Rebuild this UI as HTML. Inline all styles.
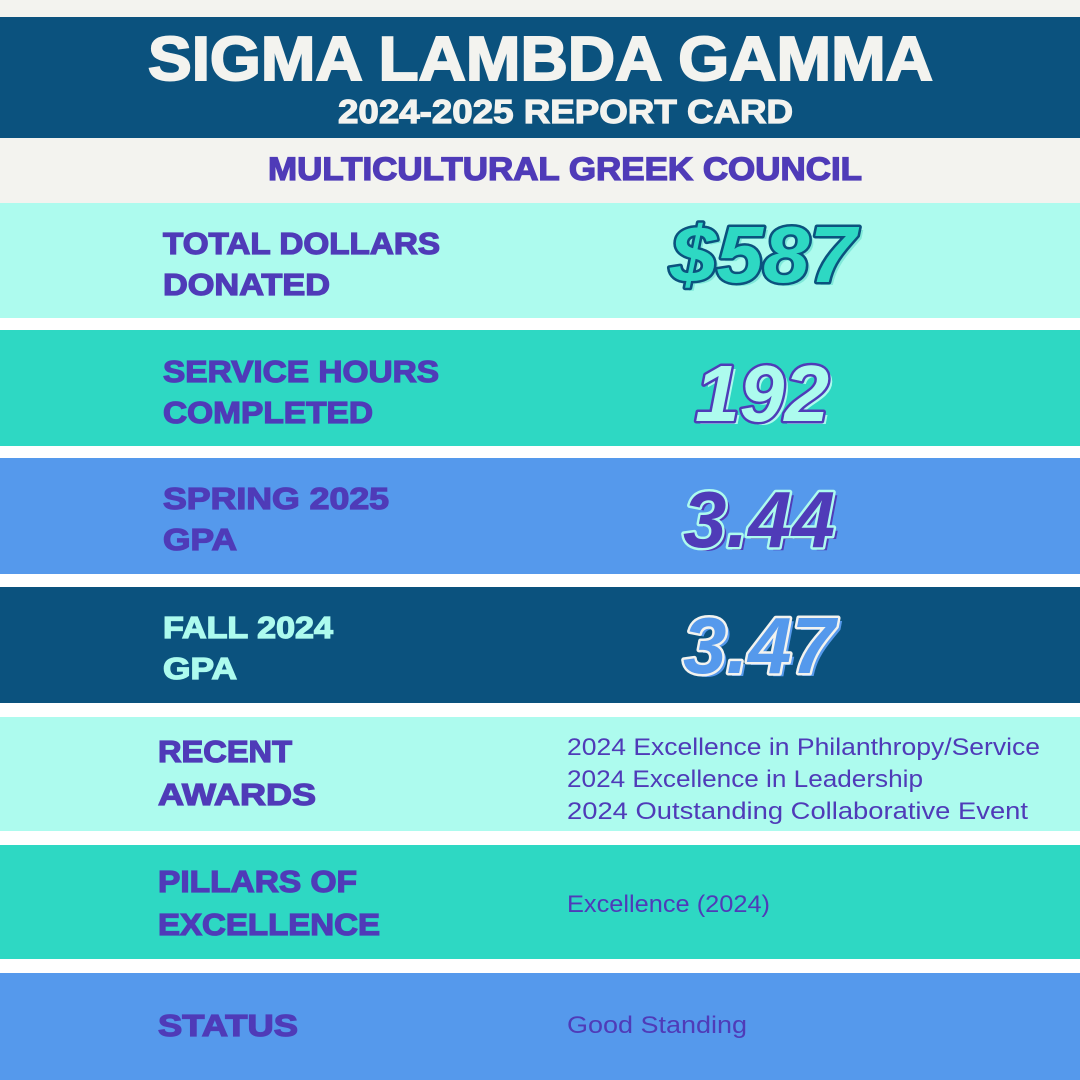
<!DOCTYPE html>
<html><head><meta charset="utf-8"><style>
html,body{margin:0;padding:0;background:#fff}
svg{display:block}
.b{font-family:"Liberation Sans",sans-serif;font-weight:bold}
.r{font-family:"Liberation Sans",sans-serif;font-size:24px;fill:#4f3bb8}
.lab text{font-size:31px;fill:#4f3bb8;stroke:#4f3bb8;stroke-width:1.3px}
.lab text.c{fill:#adfbee;stroke:#adfbee}
.big{font-size:80px;font-style:italic;font-weight:900;paint-order:stroke;stroke-width:5px;stroke-linejoin:round}
</style></head><body>
<svg width="1080" height="1080" viewBox="0 0 1080 1080" xmlns="http://www.w3.org/2000/svg">
<rect width="1080" height="1080" fill="#ffffff"/>
<rect x="0" y="0" width="1080" height="203" fill="#f3f3ef"/>
<rect x="0" y="17" width="1080" height="121" fill="#0b527e"/>
<rect x="0" y="203" width="1080" height="115" fill="#adfbee"/>
<rect x="0" y="330" width="1080" height="116" fill="#2ed8c3"/>
<rect x="0" y="458" width="1080" height="116" fill="#5599ec"/>
<rect x="0" y="587" width="1080" height="116" fill="#0b527e"/>
<rect x="0" y="717" width="1080" height="114" fill="#adfbee"/>
<rect x="0" y="845" width="1080" height="114" fill="#2ed8c3"/>
<rect x="0" y="973" width="1080" height="107" fill="#5599ec"/>

<text class="b" x="148" y="80" font-size="62" fill="#f3f3ef" stroke="#f3f3ef" stroke-width="2" textLength="785" lengthAdjust="spacingAndGlyphs">SIGMA LAMBDA GAMMA</text>
<text class="b" x="338" y="123" font-size="33" fill="#f3f3ef" stroke="#f3f3ef" stroke-width="1.2" textLength="455" lengthAdjust="spacingAndGlyphs">2024-2025 REPORT CARD</text>
<text class="b" x="268" y="180" font-size="32" fill="#4f3bb8" stroke="#4f3bb8" stroke-width="1.3" textLength="594" lengthAdjust="spacingAndGlyphs">MULTICULTURAL GREEK COUNCIL</text>

<g class="b lab">
<text x="163" y="254" textLength="277" lengthAdjust="spacingAndGlyphs">TOTAL DOLLARS</text>
<text x="163" y="295" textLength="167" lengthAdjust="spacingAndGlyphs">DONATED</text>
<text x="163" y="382" textLength="276" lengthAdjust="spacingAndGlyphs">SERVICE HOURS</text>
<text x="163" y="423" textLength="210" lengthAdjust="spacingAndGlyphs">COMPLETED</text>
<text x="163" y="509" textLength="226" lengthAdjust="spacingAndGlyphs">SPRING 2025</text>
<text x="163" y="550" textLength="74" lengthAdjust="spacingAndGlyphs">GPA</text>
<text class="c" x="163" y="638" textLength="170" lengthAdjust="spacingAndGlyphs">FALL 2024</text>
<text class="c" x="163" y="679" textLength="74" lengthAdjust="spacingAndGlyphs">GPA</text>
<text x="158" y="762" textLength="134" lengthAdjust="spacingAndGlyphs">RECENT</text>
<text x="158" y="805" textLength="158" lengthAdjust="spacingAndGlyphs">AWARDS</text>
<text x="158" y="892" textLength="199" lengthAdjust="spacingAndGlyphs">PILLARS OF</text>
<text x="158" y="935" textLength="222" lengthAdjust="spacingAndGlyphs">EXCELLENCE</text>
<text x="158" y="1036" textLength="140" lengthAdjust="spacingAndGlyphs">STATUS</text>
</g>

<text class="r" x="567" y="755" textLength="473" lengthAdjust="spacingAndGlyphs">2024 Excellence in Philanthropy/Service</text>
<text class="r" x="567" y="787" textLength="356" lengthAdjust="spacingAndGlyphs">2024 Excellence in Leadership</text>
<text class="r" x="567" y="819" textLength="461" lengthAdjust="spacingAndGlyphs">2024 Outstanding Collaborative Event</text>
<text class="r" x="567" y="912" textLength="203" lengthAdjust="spacingAndGlyphs">Excellence (2024)</text>
<text class="r" x="567" y="1033" textLength="180" lengthAdjust="spacingAndGlyphs">Good Standing</text>

<g class="b">
<text class="big" x="674" y="285" fill="#7fe9d9" stroke="none" textLength="186" lengthAdjust="spacingAndGlyphs">$587</text>
<text class="big" x="670" y="282" fill="#2ed8c3" stroke="#0b527e" textLength="186" lengthAdjust="spacingAndGlyphs">$587</text>
<text class="big" x="699" y="424" fill="#adfbee" stroke="none" textLength="134" lengthAdjust="spacingAndGlyphs">192</text>
<text class="big" x="695" y="421" fill="#adfbee" stroke="#4f3bb8" textLength="134" lengthAdjust="spacingAndGlyphs">192</text>
<text class="big" x="687" y="550" fill="#4f3bb8" stroke="none" textLength="152" lengthAdjust="spacingAndGlyphs">3.44</text>
<text class="big" x="683" y="547" fill="#4f3bb8" stroke="#adfbee" textLength="152" lengthAdjust="spacingAndGlyphs">3.44</text>
<text class="big" x="687" y="676" fill="#5599ec" stroke="none" textLength="152" lengthAdjust="spacingAndGlyphs">3.47</text>
<text class="big" x="683" y="673" fill="#5599ec" stroke="#f3f3ef" textLength="152" lengthAdjust="spacingAndGlyphs">3.47</text>
</g>
</svg>
</body></html>
